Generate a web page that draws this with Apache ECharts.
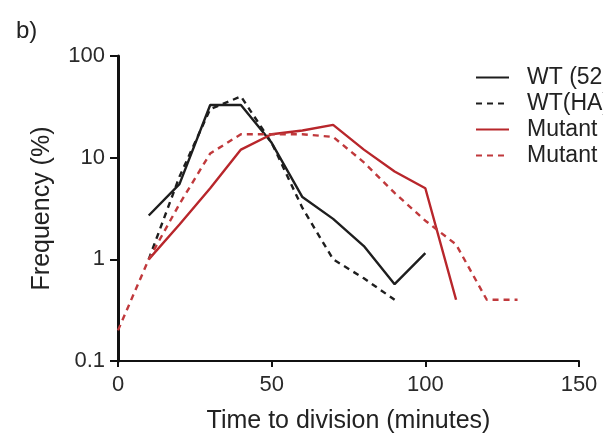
<!DOCTYPE html>
<html><head><meta charset="utf-8">
<script src="https://cdn.jsdelivr.net/npm/echarts@6/dist/echarts.min.js"></script>
<style>html,body{margin:0;padding:0;background:#fff}#c{width:603px;height:439px}</style>
</head><body><div id="c"></div>
<script>
var seriesNames = ["WT (5238)", "WT(HA)", "Mutant (5238)", "Mutant (HA)"];
var wt52X = [10, 20, 30, 40, 50, 60, 70, 80, 90, 100];
var wt52Y = [2.7, 5.5, 33, 33, 14, 4.1, 2.5, 1.35, 0.57, 1.15];
var wtHAX = [10, 20, 30, 40, 50, 60, 70, 80, 90];
var wtHAY = [1.0, 6.5, 30, 40, 14, 3.2, 1.0, 0.65, 0.4];
var mut52X = [10, 20, 30, 40, 50, 60, 70, 80, 90, 100, 110];
var mut52Y = [1.0, 2.2, 5, 12, 17, 18.5, 21, 12, 7.3, 5.0, 0.4];
var mutHAX = [0, 10, 20, 30, 40, 50, 60, 70, 80, 90, 100, 110, 120, 130];
var mutHAY = [0.2, 1.0, 3.5, 11, 17, 17, 17, 16, 9, 4.5, 2.4, 1.4, 0.4, 0.4];
var xTicks = [0, 50, 100, 150];
var yTicks = [0.1, 1, 10, 100];

function pairs(xs, ys) { return xs.map(function (x, i) { return [x, ys[i]]; }); }
var FONT = "Liberation Sans";
var chart = echarts.init(document.getElementById('c'), null, {renderer: 'canvas'});
function mk(name, xs, ys, color, type) {
  return {
    name: name, type: 'line', data: pairs(xs, ys), symbol: 'none', showSymbol: false,
    lineStyle: {color: color, width: 2.4, type: type === 'dashed' ? [6, 5] : 'solid'},
    itemStyle: {color: color}, animation: false
  };
}
chart.setOption({
  animation: false,
  backgroundColor: '#fff',
  title: {text: 'b)', left: 11, top: 14, textStyle: {fontFamily: FONT, fontSize: 24, fontWeight: 'normal', color: '#222'}},
  grid: {left: 118, top: 56, right: 24, bottom: 77, containLabel: false},
  legend: {
    orient: 'vertical', left: 470, top: 61, itemWidth: 33, itemHeight: 14, itemGap: 3,
    itemStyle: {opacity: 0},
    textStyle: {fontFamily: FONT, fontSize: 23, lineHeight: 23, color: '#222', padding: [0, 0, 0, 13]},
    data: seriesNames
  },
  xAxis: {
    type: 'value', min: xTicks[0], max: xTicks[xTicks.length - 1], interval: 50,
    name: 'Time to division (minutes)', nameLocation: 'middle', nameGap: 48,
    nameTextStyle: {fontFamily: FONT, fontSize: 25, color: '#222'},
    axisLine: {lineStyle: {color: '#111', width: 2}},
    axisTick: {show: true, length: 6, lineStyle: {color: '#111', width: 2}},
    axisLabel: {fontFamily: FONT, fontSize: 22, color: '#2a2a2a', margin: 13},
    splitLine: {show: false}
  },
  yAxis: {
    type: 'log', logBase: 10, min: yTicks[0], max: yTicks[yTicks.length - 1],
    name: 'Frequency (%)', nameLocation: 'middle', nameGap: 63,
    nameTextStyle: {fontFamily: FONT, fontSize: 25, color: '#222'},
    axisLine: {lineStyle: {color: '#111', width: 3}},
    axisTick: {show: true, length: 8, lineStyle: {color: '#111', width: 2}},
    axisLabel: {fontFamily: FONT, fontSize: 22, color: '#2a2a2a', margin: 13,
      formatter: function (v) { return String(Math.round(v * 10) / 10); }},
    splitLine: {show: false}
  },
  series: [
    mk(seriesNames[0], wt52X, wt52Y, '#1e1e1e', 'solid'),
    mk(seriesNames[1], wtHAX, wtHAY, '#1e1e1e', 'dashed'),
    mk(seriesNames[2], mut52X, mut52Y, '#b8262b', 'solid'),
    mk(seriesNames[3], mutHAX, mutHAY, '#c0393c', 'dashed')
  ]
});
</script></body></html>
